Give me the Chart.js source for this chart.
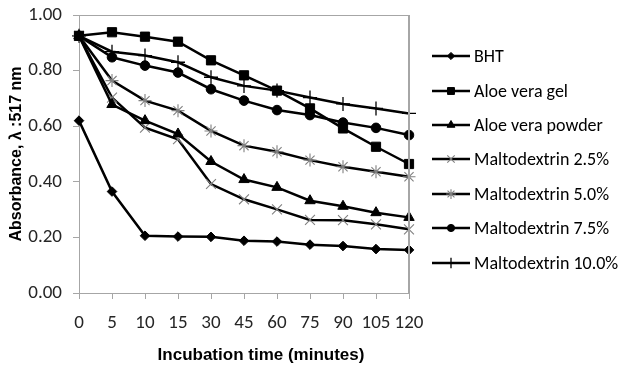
<!DOCTYPE html>
<html><head><meta charset="utf-8">
<script src="https://cdn.jsdelivr.net/npm/chart.js@4/dist/chart.umd.min.js"></script>
<style>html,body{margin:0;padding:0;background:#fff}#wrap{width:628px;height:370px}</style>
</head><body><div id="wrap"><canvas id="c" width="628" height="370"></canvas></div>
<script>
const categories = ['0','5','10','15','30','45','60','75','90','105','120'];
const bht = [0.62,0.365,0.206,0.203,0.202,0.188,0.185,0.174,0.169,0.158,0.155];
const aloeGel = [0.925,0.938,0.922,0.904,0.837,0.783,0.728,0.664,0.592,0.526,0.464];
const aloePowder = [0.925,0.678,0.62,0.572,0.473,0.408,0.38,0.332,0.312,0.289,0.272];
const malto25 = [0.925,0.703,0.595,0.553,0.392,0.337,0.301,0.263,0.262,0.247,0.229];
const malto50 = [0.925,0.764,0.692,0.656,0.583,0.53,0.508,0.478,0.454,0.436,0.418];
const malto75 = [0.925,0.848,0.818,0.793,0.733,0.692,0.658,0.64,0.613,0.594,0.568];
const malto100 = [0.925,0.868,0.854,0.83,0.776,0.745,0.728,0.703,0.68,0.664,0.646];
const yTicks = [0,0.2,0.4,0.6,0.8,1.0];
const seriesNames = ['BHT','Aloe vera gel','Aloe vera powder','Maltodextrin 2.5%','Maltodextrin 5.0%','Maltodextrin 7.5%','Maltodextrin 10.0%'];
const xTitle = 'Incubation time (minutes)';
const yTitle = 'Absorbance, λ :517 nm';

const FONT = "Carlito, 'Liberation Sans', sans-serif";
const AFONT = "'Liberation Sans', Arial, sans-serif";
function ds(label, data, style, radius, pColor, pBorder, pWidth){
  return {label, data, borderColor:'#000', borderWidth:2.5, pointStyle:style, pointRadius:radius,
    pointBackgroundColor:pColor, pointBorderColor:pBorder, pointBorderWidth:pWidth, tension:0, fill:false};
}
const datasets = [
  ds(seriesNames[0], bht, 'rectRot', 4.8, '#000', '#000', 1),
  ds(seriesNames[1], aloeGel, 'rect', 6.5, '#000', '#000', 1),
  ds(seriesNames[2], aloePowder, 'triangle', 6, '#000', '#000', 1),
  ds(seriesNames[3], malto25, 'crossRot', 7, '#808080', '#808080', 1.1),
  ds(seriesNames[4], malto50, 'star', 6.5, '#808080', '#808080', 1.1),
  ds(seriesNames[5], malto75, 'circle', 4.8, '#000', '#000', 1),
  ds(seriesNames[6], malto100, 'cross', 7, '#000', '#000', 1.3),
];

const frame = {
  id:'frame',
  afterDraw(chart){
    const {ctx, chartArea:a} = chart;
    ctx.save();
    ctx.strokeStyle='#a6a6a6'; ctx.lineWidth=1;
    ctx.beginPath();
    ctx.moveTo(a.left, a.top+0.5); ctx.lineTo(a.right, a.top+0.5);
    ctx.stroke();
    ctx.lineWidth=2;
    ctx.beginPath();
    ctx.moveTo(a.right, a.top); ctx.lineTo(a.right, a.bottom);
    ctx.stroke();
    // axis titles
    ctx.fillStyle='#000'; ctx.textAlign='center'; ctx.textBaseline='middle';
    ctx.font="bold 17px "+AFONT;
    ctx.fillText(xTitle, 261, 355);
    ctx.save();
    ctx.translate(17, 154); ctx.rotate(-Math.PI/2);
    ctx.font="bold 16px "+AFONT;
    ctx.fillText(yTitle, 0, 0);
    ctx.restore();
    // legend
    const ys=[56,91,125,159,194,228,263];
    chart.data.datasets.forEach((d,i)=>{
      const y=ys[i];
      ctx.strokeStyle='#000'; ctx.lineWidth=2.5;
      ctx.beginPath(); ctx.moveTo(432,y); ctx.lineTo(470,y); ctx.stroke();
      ctx.fillStyle=d.pointBackgroundColor; ctx.strokeStyle=d.pointBorderColor; ctx.lineWidth=d.pointBorderWidth;
      Chart.helpers.drawPoint(ctx,{pointStyle:d.pointStyle, radius:d.pointRadius*0.75, borderWidth:d.pointBorderWidth, rotation:0}, 451, y);
      ctx.fillStyle='#000'; ctx.font="18px "+FONT; ctx.textBaseline='middle'; ctx.textAlign='left';
      ctx.fillText(d.label, 474, y+1);
    });
    ctx.restore();
  }
};

new Chart(document.getElementById('c'), {
  type:'line',
  data:{labels:categories, datasets},
  options:{
    responsive:false, animation:false,
    layout:{padding:{top:15,right:219,left:0,bottom:0}},
    plugins:{legend:{display:false}, tooltip:{enabled:false}},
    scales:{
      x:{offset:false,
        grid:{drawOnChartArea:false, color:'#a6a6a6', tickLength:6, lineWidth:1},
        border:{color:'#a6a6a6', width:1},
        ticks:{font:{family:FONT,size:19}, color:'#262626', padding:13, maxRotation:0, autoSkip:false},
        afterFit(s){ s.height=77; s.paddingLeft=0; s.paddingRight=0; }
      },
      y:{min:0,max:1,
        afterBuildTicks(s){ s.ticks = yTicks.map(v=>({value:v})); },
        grid:{drawOnChartArea:false, color:'#a6a6a6', tickLength:6},
        border:{color:'#a6a6a6', width:1},
        ticks:{font:{family:FONT,size:19}, color:'#262626', padding:11, callback:v=>v.toFixed(2)},
        afterFit(s){ s.width=79; s.paddingTop=0; s.paddingBottom=0; }
      }
    }
  },
  plugins:[frame]
});
</script></body></html>
